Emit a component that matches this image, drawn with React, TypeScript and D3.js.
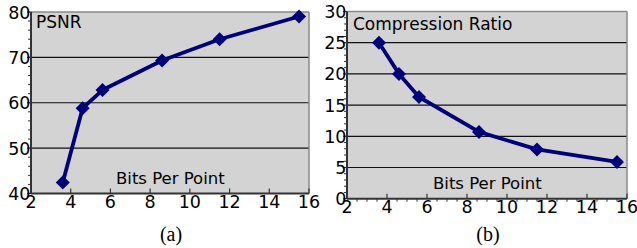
import React from 'react';
import * as d3 from 'd3';

const WIDTH = 637;
const HEIGHT = 248;

// bits per point, shared by both panels
const bitsPerPoint = [3.6, 4.6, 5.6, 8.6, 11.5, 15.5];
const psnr = [42.4, 58.8, 62.8, 69.3, 74.0, 79.0];
const compressionRatio = [25.0, 20.0, 16.3, 10.7, 7.9, 5.9];

const xTicks = [2, 4, 6, 8, 10, 12, 14, 16];
const psnrTicks = [40, 50, 60, 70, 80];
const ratioTicks = [0, 5, 10, 15, 20, 25, 30];

const LINE = '#00007a';
const BG = '#d3d3d3';
const TICK_FONT = '"DejaVu Sans", Verdana, sans-serif';

type PanelProps = {
  left: number;
  right: number;
  top: number;
  bottom: number;
  values: number[];
  yDomain: [number, number];
  yTicks: number[];
  yMinorStep: number;
  xMinor: boolean;
  title: string;
  titleX: number;
  titleY: number;
  axisLabelX: number;
  axisLabelY: number;
  caption: string;
};

const Panel = (p: PanelProps) => {
  const x = d3.scaleLinear().domain([2, 16]).range([p.left, p.right]);
  const y = d3.scaleLinear().domain(p.yDomain).range([p.bottom, p.top]);

  const points = bitsPerPoint.map((b, i) => [x(b), y(p.values[i])] as [number, number]);
  const line = d3.line()(points) || '';

  const minorY = d3.range(p.yDomain[0], p.yDomain[1] + 0.001, p.yMinorStep)
    .filter(v => !p.yTicks.includes(v));
  const minorX = p.xMinor ? d3.range(2, 16.001, 0.5).filter(v => !xTicks.includes(v)) : [];

  // square turned 45 degrees
  const diamond = d3.symbol().type(d3.symbolSquare).size(98)() || '';

  return (
    <g>
      <rect x={p.left} y={p.top} width={p.right - p.left} height={p.bottom - p.top} fill={BG} />
      {/* gridlines */}
      {p.yTicks.slice(1, -1).map(t => (
        <line key={t} x1={p.left} x2={p.right} y1={y(t)} y2={y(t)} stroke="#111" strokeWidth={1.2} />
      ))}
      {/* frame: light top/right, dark left/bottom */}
      <line x1={p.left} x2={p.right} y1={p.top} y2={p.top} stroke="#8a8a8a" strokeWidth={1.5} />
      <line x1={p.right} x2={p.right} y1={p.top} y2={p.bottom} stroke="#8a8a8a" strokeWidth={1.5} />
      <line x1={p.left} x2={p.left} y1={p.top} y2={p.bottom} stroke="#333" strokeWidth={2} />
      <line x1={p.left} x2={p.right} y1={p.bottom} y2={p.bottom} stroke="#333" strokeWidth={2} />
      {/* y ticks */}
      {minorY.map(t => (
        <line key={'my' + t} x1={p.left - 3} x2={p.left} y1={y(t)} y2={y(t)} stroke="#333" strokeWidth={1} />
      ))}
      {p.yTicks.map(t => (
        <g key={'y' + t}>
          <line x1={p.left - 4} x2={p.left} y1={y(t)} y2={y(t)} stroke="#333" strokeWidth={1.2} />
          <text x={p.left - 0.5} y={y(t) + 6.5} textAnchor="end" fontFamily={TICK_FONT} fontSize={17.5} fill="#000">
            {t}
          </text>
        </g>
      ))}
      {/* x ticks */}
      {minorX.map(t => (
        <line key={'mx' + t} x1={x(t)} x2={x(t)} y1={p.bottom} y2={p.bottom + 3} stroke="#333" strokeWidth={1} />
      ))}
      {xTicks.map(t => (
        <g key={'x' + t}>
          <line x1={x(t)} x2={x(t)} y1={p.bottom - 5} y2={p.bottom} stroke="#333" strokeWidth={1.2} />
          <text x={x(t)} y={p.bottom + 14} textAnchor="middle" fontFamily={TICK_FONT} fontSize={17.5} fill="#000">
            {t}
          </text>
        </g>
      ))}
      <text x={p.titleX} y={p.titleY} fontFamily={TICK_FONT} fontSize={17} fill="#000">{p.title}</text>
      <text x={p.axisLabelX} y={p.axisLabelY} fontFamily={TICK_FONT} fontSize={16.5} fill="#000">Bits Per Point</text>
      <path d={line} fill="none" stroke={LINE} strokeWidth={3.8} strokeLinejoin="round" />
      {points.map(([px, py], i) => (
        <path key={i} d={diamond} transform={`translate(${px},${py}) rotate(45)`} fill={LINE} />
      ))}
      <text x={(p.left + p.right) / 2 + 1} y={241} textAnchor="middle" fontFamily='"Liberation Serif", "Times New Roman", serif' fontSize={20} fill="#000">
        {p.caption}
      </text>
    </g>
  );
};

export default function App() {
  return (
    <svg width={WIDTH} height={HEIGHT} style={{ position: 'absolute', left: 0, top: 0, background: '#fff' }}>
      <Panel left={31} right={309} top={12} bottom={193.5} values={psnr} yDomain={[40, 80]}
        yTicks={psnrTicks} yMinorStep={2} xMinor={false} title="PSNR" titleX={36} titleY={27.5}
        axisLabelX={116} axisLabelY={184} caption="(a)" />
      <Panel left={347} right={627} top={11.5} bottom={198.7} values={compressionRatio} yDomain={[0, 30]}
        yTicks={ratioTicks} yMinorStep={1} xMinor={true} title="Compression Ratio" titleX={353} titleY={30}
        axisLabelX={433} axisLabelY={189} caption="(b)" />
    </svg>
  );
}
